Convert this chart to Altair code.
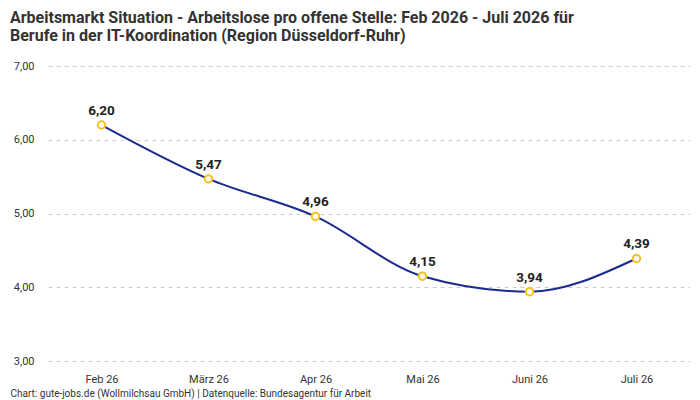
import altair as alt
import pandas as pd

months = ["Feb 26", "März 26", "Apr 26", "Mai 26", "Juni 26", "Juli 26"]
values = [6.20, 5.47, 4.96, 4.15, 3.94, 4.39]
labels = ["6,20", "5,47", "4,96", "4,15", "3,94", "4,39"]
y_ticks = [3, 4, 5, 6, 7]

title_lines = [
    "Arbeitsmarkt Situation - Arbeitslose pro offene Stelle: Feb 2026 - Juli 2026 für",
    "Berufe in der IT-Koordination (Region Düsseldorf-Ruhr)",
]
footer = "Chart: gute-jobs.de (Wollmilchsau GmbH) | Datenquelle: Bundesagentur für Arbeit"

df = pd.DataFrame({"month": months, "value": values, "label": labels})

FONT = "Roboto"

x_enc = alt.X(
    "month:N",
    sort=months,
    scale=alt.Scale(type="point", padding=0.5),
    axis=alt.Axis(
        title=footer,
        titleFont=FONT,
        titleFontSize=10,
        titleFontWeight="normal",
        titleColor="#333333",
        titleAnchor="start",
        titleAlign="left",
        titleX=-38,
        titleY=35,
        titleBaseline="alphabetic",
        labelFont=FONT,
        labelFontSize=11,
        labelColor="#333333",
        labelPadding=12,
        ticks=False,
        domain=False,
        grid=False,
        labelAngle=0,
    ),
)
y_enc = alt.Y(
    "value:Q",
    scale=alt.Scale(domain=[3, 7], nice=False, zero=False),
    axis=alt.Axis(
        title=None,
        values=y_ticks,
        labelExpr="replace(format(datum.value, '.2f'), '.', ',')",
        labelFont=FONT,
        labelFontSize=11,
        labelColor="#333333",
        labelPadding=14,
        ticks=False,
        domain=False,
        grid=True,
        gridDash=[4, 4],
        gridColor="#cccccc",
        gridWidth=1,
    ),
)

base = alt.Chart(df).encode(x=x_enc, y=y_enc)

line = base.mark_line(color="#1a2b8c", strokeWidth=2, interpolate="monotone")
points = base.mark_point(
    filled=True, fill="white", stroke="#f5c21b", strokeWidth=2, size=55, opacity=1
)
text = base.mark_text(
    dy=-14, font=FONT, fontSize=13.5, fontWeight="bold", color="#222222"
).encode(text="label:N")

chart = (
    alt.layer(line, points, text)
    .properties(
        width=642,
        height=295,
        background="white",
        padding={"left": 40, "top": 58, "right": 2, "bottom": 39},
        autosize=alt.AutoSizeParams(type="none"),
        title=alt.TitleParams(
            text=title_lines,
            anchor="start",
            frame="group",
            font=FONT,
            fontSize=16,
            fontWeight="bold",
            color="#333333",
            dx=-38,
            offset=16,
            lineHeight=18,
        ),
    )
    .configure_view(strokeWidth=0, stroke="transparent")
    .configure_axis(domain=False, ticks=False)
)

chart.save("out.html", embed_options={"renderer": "svg", "actions": False})
